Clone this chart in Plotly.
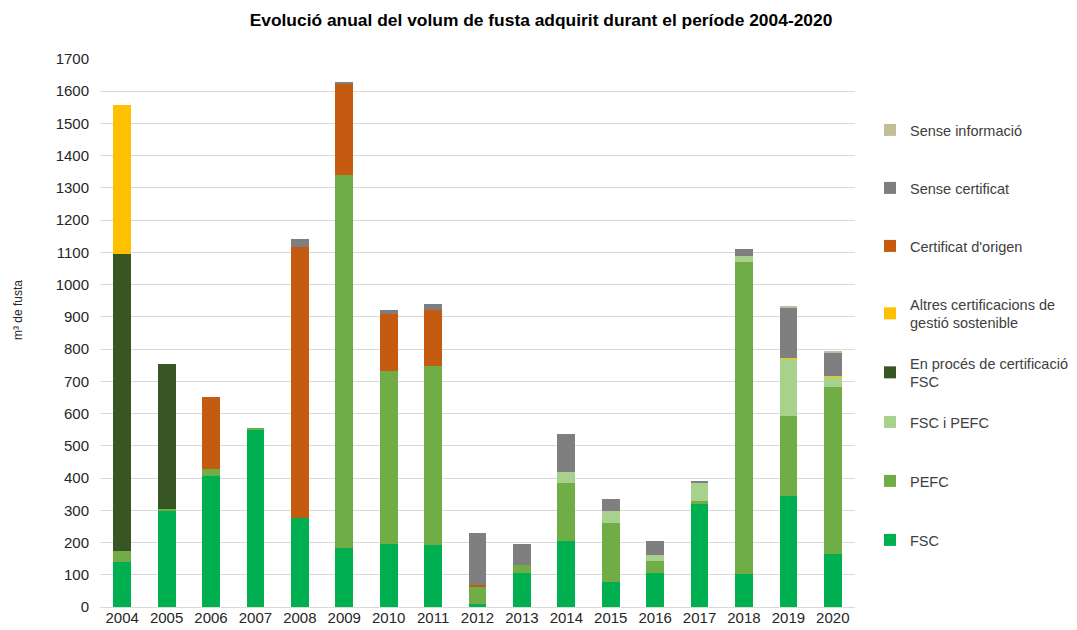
import plotly.graph_objects as go

years = ["2004","2005","2006","2007","2008","2009","2010","2011","2012","2013","2014","2015","2016","2017","2018","2019","2020"]

fsc          = [140, 300, 405, 550, 275, 184, 196, 193,   8, 104, 206,  78, 105, 320, 103, 344, 164]
pefc         = [ 34,   3,  23,   5,   0,1155, 536, 555,  53,  26, 180, 182,  38,  10, 967, 247, 518]
fsc_pefc     = [  0,   0,   0,   0,   0,   0,   0,   0,   0,   0,  34,  39,  19,  56,  20, 179,  32]
en_proces    = [920, 450,   0,   0,   0,   0,   0,   0,   0,   0,   0,   0,   0,   0,   0,   0,   0]
altres       = [462,   0,   0,   0,   0,   0,   0,   0,   0,   0,   0,   0,   0,   0,   0,   4,   4]
cert_origen  = [  0,   0, 224,   0, 843, 282, 176, 174,   7,   0,   0,   0,   0,   0,   0,   0,   0]
sense_cert   = [  0,   0,   0,   0,  24,   8,  12,  17, 161,  64, 117,  36,  43,   2,  22, 154,  70]
sense_info   = [  0,   0,   0,   0,   0,   0,   0,   0,   0,   0,   0,   0,   0,   0,   0,   7,   7]

series = [
    ("FSC", fsc, "#00B050"),
    ("PEFC", pefc, "#70AD47"),
    ("FSC i PEFC", fsc_pefc, "#A9D18E"),
    ("En procés de certificació<br>FSC", en_proces, "#375623"),
    ("Altres certificacions de<br>gestió sostenible", altres, "#FFC000"),
    ("Certificat d'origen", cert_origen, "#C55A11"),
    ("Sense certificat", sense_cert, "#7F7F7F"),
    ("Sense informació", sense_info, "#C4BD97"),
]

FONT = "Liberation Sans, Arial, sans-serif"
OFF = 8  # page body margin offset
W, H = 1077, 630
L, R_EDGE, T, B_EDGE = 100 - OFF, 855 - OFF, 59 - OFF, 607 - OFF
PW, PH = R_EDGE - L, B_EDGE - T

# legend text centre (screen px) for each series
legend_px = [540, 481, 422, 372.5, 313.5, 246, 188, 130]

fig = go.Figure()
layout_legends = {}
for i, ((name, vals, col), ypx) in enumerate(zip(series, legend_px)):
    lname = "legend" if i == 0 else f"legend{i+1}"
    fig.add_trace(go.Bar(x=years, y=vals, name=name, marker=dict(color=col, line=dict(width=0)),
                         legend=lname))
    layout_legends[lname] = dict(
        x=(870 - OFF - L) / PW, xanchor="left",
        y=(B_EDGE - (ypx - OFF)) / PH, yanchor="middle",
        bgcolor="rgba(0,0,0,0)", borderwidth=0,
        font=dict(family=FONT, size=14.5, color="#404040"),
    )

fig.update_layout(
    width=W, height=H,
    barmode="stack", bargap=0.6,
    paper_bgcolor="white", plot_bgcolor="white",
    margin=dict(l=L, r=W - R_EDGE, t=T, b=H - B_EDGE, autoexpand=False),
    font=dict(family=FONT, size=15, color="#262626"),
    title=dict(text="<b>Evolució anual del volum de fusta adquirit durant el període 2004-2020</b>",
               x=(541 - OFF) / W, xanchor="center", y=1 - (20 - OFF) / H, yanchor="middle",
               font=dict(size=17.4, color="#000000")),
    showlegend=True,
    annotations=[dict(text="m³ de fusta", textangle=-90, xref="paper", yref="paper",
                      x=(18 - OFF - L) / PW, y=(B_EDGE - (310 - OFF)) / PH,
                      xanchor="center", yanchor="middle", showarrow=False,
                      font=dict(family=FONT, size=12, color="#262626"))],
    **layout_legends,
)
fig.update_yaxes(range=[0, 1700], dtick=100, gridcolor="#D9D9D9", gridwidth=1,
                 zeroline=True, zerolinecolor="#D9D9D9", zerolinewidth=1,
                 ticks="", ticklabelstandoff=10, tickfont=dict(size=15, color="#262626"),
                 automargin=False)
fig.update_xaxes(showgrid=False, ticks="", tickfont=dict(size=15, color="#262626"),
                 automargin=False, showline=False)

fig.write_html("out.html")
